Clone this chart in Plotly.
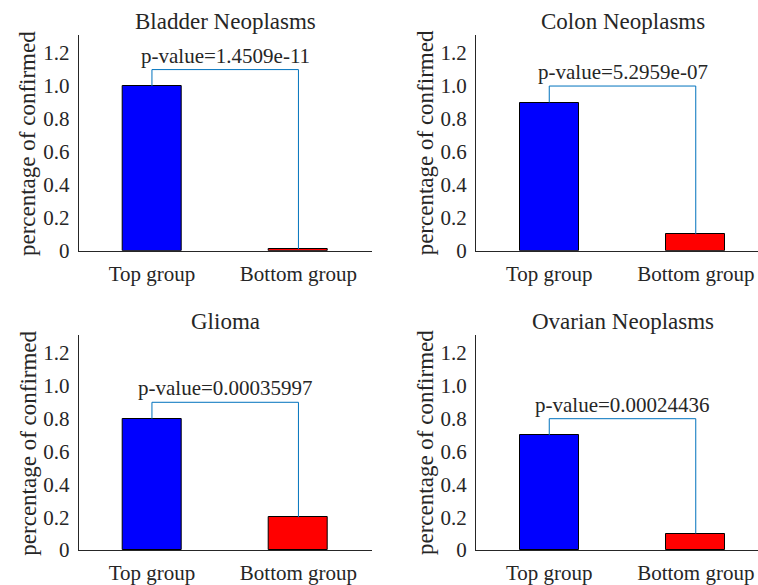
import plotly.graph_objects as go

categories = ["Top group", "Bottom group"]
titles = ["Bladder Neoplasms", "Colon Neoplasms", "Glioma", "Ovarian Neoplasms"]
top_values = [1.0, 0.9, 0.8, 0.7]
bottom_values = [0.01, 0.1, 0.2, 0.1]
pvalues = ["1.4509e-11", "5.2959e-07", "0.00035997", "0.00024436"]
ytick_vals = [0, 0.2, 0.4, 0.6, 0.8, 1.0, 1.2]
ytick_text = ["0", "0.2", "0.4", "0.6", "0.8", "1.0", "1.2"]

W, H = 758, 585
FONT = "Liberation Serif"
TXT = "#262626"
BRACKET = "#0072BD"

# pixel layout of the panels (left, right, top, bottom)
col_px = [(78.7, 371.7), (476.0, 758.0)]
row_px = [(35.0, 250.7), (335.0, 550.0)]
unit_px = 146.5  # pixels per category step

fig = go.Figure()
annotations = []
for i in range(4):
    r, c = divmod(i, 2)
    idx = "" if i == 0 else str(i + 1)
    xa, ya = "x" + idx, "y" + idx
    l, rr = col_px[c]
    t, b = row_px[r]
    xmax = -0.5 + (rr - l) / unit_px
    fig.add_trace(go.Bar(
        x=categories, y=[top_values[i], bottom_values[i]],
        marker=dict(color=["#0000FF", "#FF0000"], line=dict(color="#000000", width=1)),
        width=0.4, xaxis=xa, yaxis=ya, showlegend=False, hoverinfo="skip"))
    yb = max(top_values[i], bottom_values[i]) + 0.1
    fig.add_trace(go.Scatter(
        x=[categories[0], categories[0], categories[1], categories[1]],
        y=[top_values[i], yb, yb, bottom_values[i]],
        mode="lines", line=dict(color=BRACKET, width=1),
        xaxis=xa, yaxis=ya, showlegend=False, hoverinfo="skip"))
    annotations.append(dict(x=0.5, y=yb, xref=xa, yref=ya, text="p-value=" + pvalues[i],
                            showarrow=False, yanchor="middle", yshift=14,
                            font=dict(family=FONT, size=21, color=TXT)))
    # subplot title centred over the full axis
    annotations.append(dict(x=(l + l + 2 * unit_px) / 2 / W, y=1 - (t - 13.5) / H,
                            xref="paper", yref="paper", text=titles[i], showarrow=False,
                            xanchor="center", yanchor="middle",
                            font=dict(family=FONT, size=23, color=TXT)))
    annotations.append(dict(x=(l - 51) / W, y=1 - (t + b + 1) / 2 / H,
                            xref="paper", yref="paper", text="percentage of confirmed",
                            showarrow=False, textangle=-90, xanchor="center", yanchor="middle",
                            font=dict(family=FONT, size=23, color=TXT)))
    xkw = dict(domain=[l / W, rr / W], range=[-0.5, xmax], showline=True,
               linecolor=TXT, linewidth=1, showgrid=False, zeroline=False,
               ticks="", tickfont=dict(family=FONT, size=21, color=TXT),
               ticklabelstandoff=4, anchor=ya, fixedrange=True, automargin=False)
    ykw = dict(domain=[1 - b / H, 1 - t / H], range=[0, 1.31], showline=True,
               linecolor=TXT, linewidth=1, showgrid=False, zeroline=False,
               ticks="", tickvals=ytick_vals, ticktext=ytick_text,
               tickfont=dict(family=FONT, size=21, color=TXT),
               ticklabelstandoff=4, anchor=xa, fixedrange=True, automargin=False)
    fig.update_layout(**{"xaxis" + idx: xkw, "yaxis" + idx: ykw})

fig.update_layout(width=W, height=H, margin=dict(l=0, r=0, t=0, b=0, autoexpand=False),
                  paper_bgcolor="white", plot_bgcolor="white",
                  font=dict(family=FONT, color=TXT),
                  annotations=annotations, bargap=0)
fig.write_html("out.html")
